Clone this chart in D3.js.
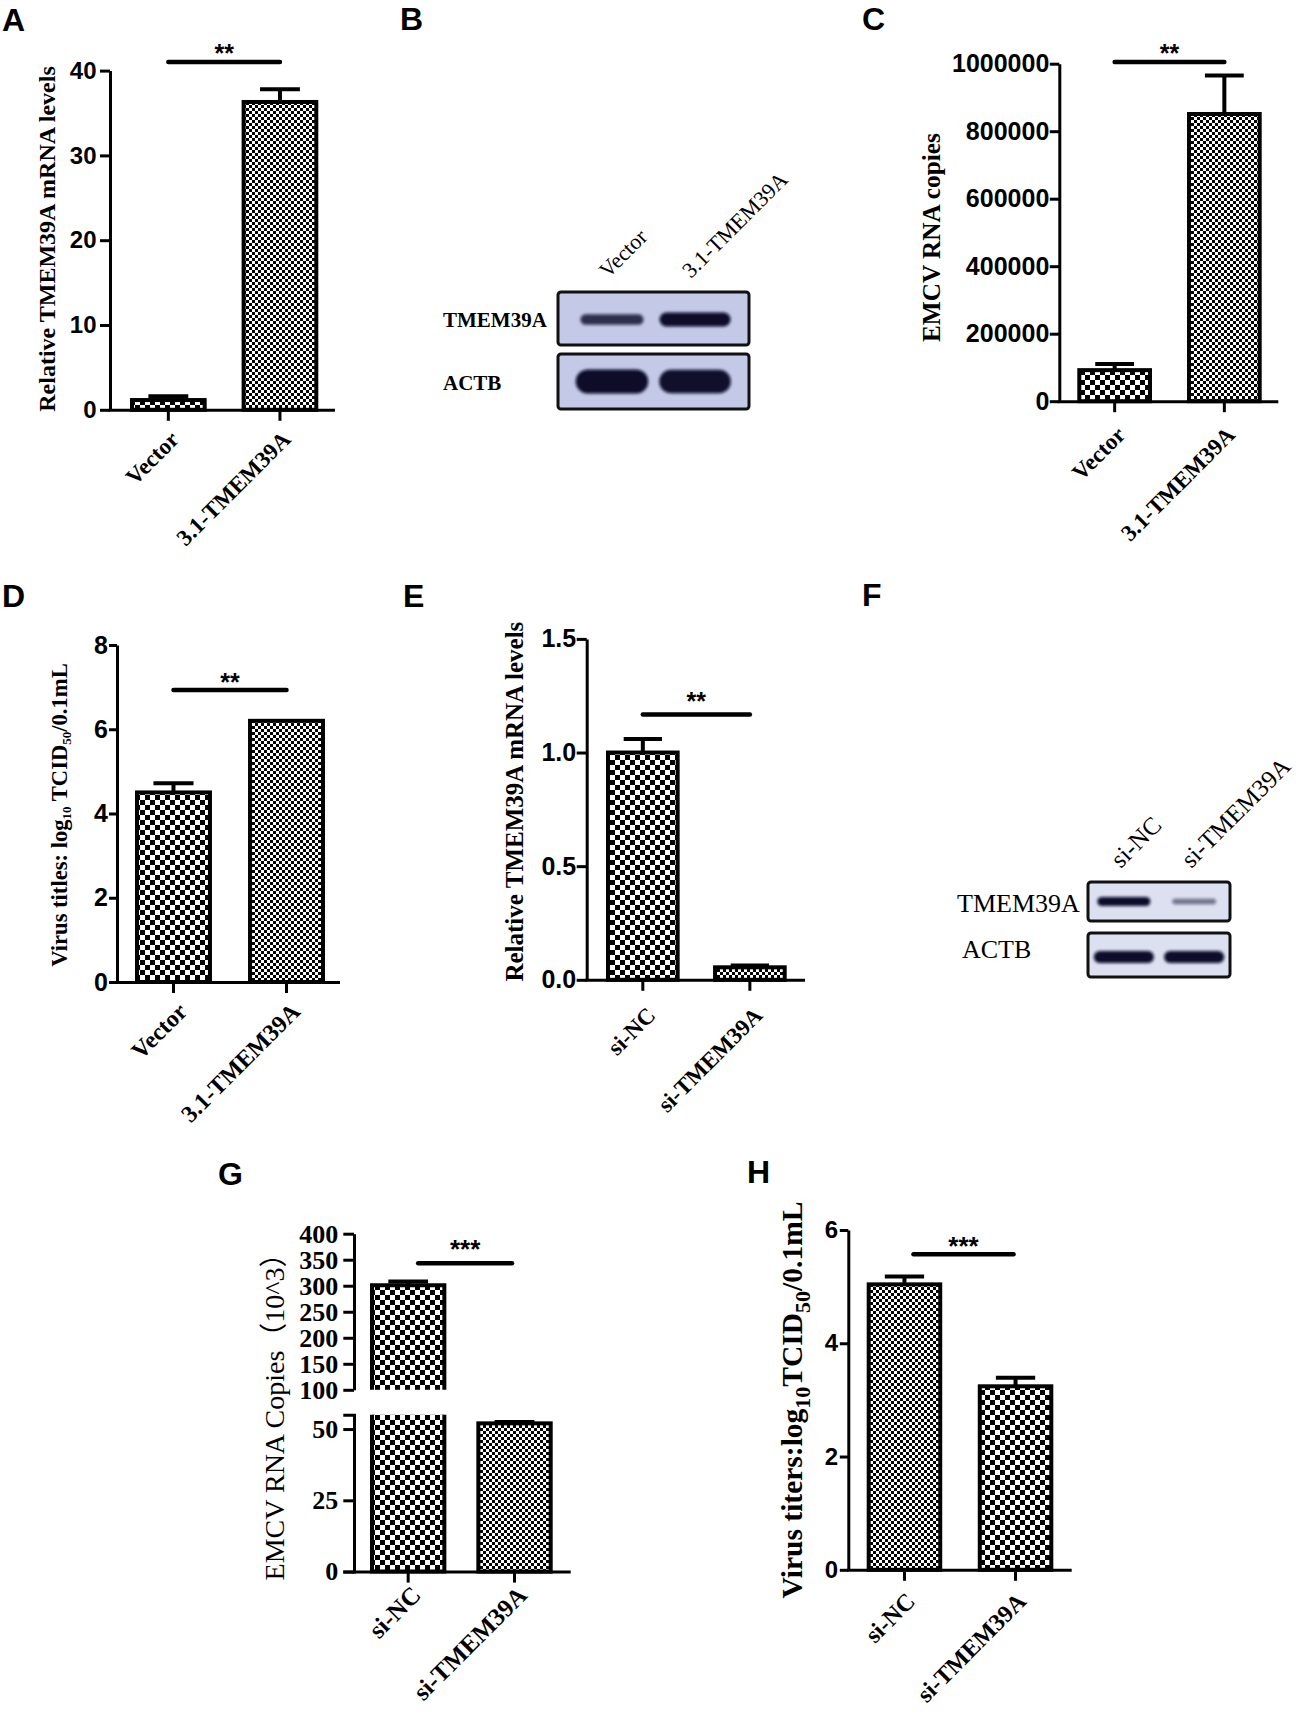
<!DOCTYPE html>
<html>
<head>
<meta charset="utf-8">
<script src="https://cdn.jsdelivr.net/npm/d3@7/dist/d3.min.js"></script>
<style>
html,body{margin:0;padding:0;background:#fff;}
svg{display:block;}
text{white-space:pre;}
</style>
</head>
<body>
<svg id="fig" width="1300" height="1716" xmlns="http://www.w3.org/2000/svg"></svg>
<script>
// ===================== DATA =====================
const catsOE = ["Vector", "3.1-TMEM39A"];
const catsKD = ["si-NC", "si-TMEM39A"];

// A: relative TMEM39A mRNA levels (over-expression)
const aValues = [1.15, 36.3];
const aErrors = [0.45, 1.5];
const aTicks = [0, 10, 20, 30, 40];

// C: EMCV RNA copies (over-expression)
const cValues = [92000, 851000];
const cErrors = [18000, 114000];
const cTicks = [0, 200000, 400000, 600000, 800000, 1000000];

// D: virus titres log10 TCID50/0.1mL (over-expression)
const dValues = [4.5, 6.2];
const dErrors = [0.22, 0];
const dTicks = [0, 2, 4, 6, 8];

// E: relative TMEM39A mRNA levels (knock-down)
const eValues = [1.0, 0.055];
const eErrors = [0.06, 0.008];
const eTicks = [0, 0.5, 1.0, 1.5];

// G: EMCV RNA copies (10^3) (knock-down), broken axis
const gValues = [301, 52];
const gErrors = [7, 0.5];
const gTicksUpper = [100, 150, 200, 250, 300, 350, 400];
const gTicksLower = [0, 25, 50];
const gBreak = [55, 100];

// H: virus titres log10 TCID50/0.1mL (knock-down)
const hValues = [5.04, 3.24];
const hErrors = [0.14, 0.15];
const hTicks = [0, 2, 4, 6];

// significance brackets
const sigLevels = { A: 41, C: 1005000, D: 6.93, E: 1.167, G: 343, H: 5.57 };
const sigLabels = { A: "**", C: "**", D: "**", E: "**", G: "***", H: "***" };

// western blots: relative band intensity [row][lane]
const blotRows = ["TMEM39A", "ACTB"];
const blotBIntensity = [[0.55, 1.0], [1.0, 0.95]];
const blotFIntensity = [[1.0, 0.3], [1.0, 1.0]];

// ===================== DRAWING =====================
const serif = "'Liberation Serif','Times New Roman',Times,serif";
const sans = "'Liberation Sans',Arial,Helvetica,sans-serif";
const svg = d3.select("#fig");
const defs = svg.append("defs");

function checker(id, s) {
  const p = defs.append("pattern").attr("id", id).attr("patternUnits", "userSpaceOnUse")
    .attr("width", 2 * s).attr("height", 2 * s);
  p.append("rect").attr("width", 2 * s).attr("height", 2 * s).attr("fill", "#fff");
  p.append("rect").attr("width", s).attr("height", s).attr("fill", "#000");
  p.append("rect").attr("x", s).attr("y", s).attr("width", s).attr("height", s).attr("fill", "#000");
}
checker("coarse", 5);
checker("fine", 3);

const blurF = defs.append("filter").attr("id", "blur").attr("x", "-30%").attr("y", "-80%")
  .attr("width", "160%").attr("height", "260%");
blurF.append("feGaussianBlur").attr("stdDeviation", 1.6);

function letter(t, x, y) {
  svg.append("text").attr("x", x).attr("y", y).attr("font-family", sans).attr("font-weight", "bold")
    .attr("font-size", 32).text(t);
}

function styleAxis(a, fam, fs, weight) {
  a.selectAll("path,line").attr("stroke", "#000").attr("stroke-width", 3);
  if (fam) a.attr("font-family", fam).attr("font-size", fs).attr("font-weight", weight || "bold");
  a.selectAll("text").attr("fill", "#000");
}

function richLabel(x, y, fs, weight, parts, fam) {
  const t = svg.append("text").attr("transform", `translate(${x},${y}) rotate(-90)`)
    .attr("text-anchor", "middle").attr("font-family", fam || serif).attr("font-size", fs)
    .attr("font-weight", weight).attr("fill", "#000");
  let shift = 0;
  parts.forEach(p => {
    const ts = t.append("tspan").text(p.t);
    if (p.sub) { ts.attr("font-size", p.sub).attr("dy", p.dy - shift); shift = p.dy; }
    else { if (shift) ts.attr("dy", -shift); shift = 0; }
  });
}

function xLabels(g, cats, cx, y0, dx, dy, fs) {
  g.selectAll(".xl").data(cats).join("text").attr("class", "xl")
    .attr("transform", c => `translate(${cx(c) + dx},${y0 + dy}) rotate(-45)`)
    .attr("text-anchor", "end").attr("font-family", serif).attr("font-weight", "bold")
    .attr("font-size", fs).attr("fill", "#000").text(c => c);
}

function sigBracket(g, x1, x2, sy, label, fs, dy) {
  g.append("line").attr("x1", x1).attr("x2", x2).attr("y1", sy).attr("y2", sy)
    .attr("stroke", "#000").attr("stroke-width", 4.5).attr("stroke-linecap", "round");
  g.append("text").attr("x", (x1 + x2) / 2).attr("y", sy + dy).attr("text-anchor", "middle")
    .attr("font-family", sans).attr("font-weight", "bold").attr("font-size", fs).text(label);
}

function errBar(g, cx, yv, ye, half) {
  g.append("line").attr("x1", cx).attr("x2", cx).attr("y1", yv).attr("y2", ye)
    .attr("stroke", "#000").attr("stroke-width", 4);
  g.append("line").attr("x1", cx - half).attr("x2", cx + half).attr("y1", ye).attr("y2", ye)
    .attr("stroke", "#000").attr("stroke-width", 4);
}

function barPanel(o) {
  const g = svg.append("g");
  const y = d3.scaleLinear().domain(o.domain).range([o.y0, o.yTop]);
  const x = d3.scaleBand().domain(o.cats).range(o.barRange).paddingInner(o.pad).paddingOuter(0);
  const bw = x.bandwidth();
  const cx = c => x(c) + bw / 2;
  const rows = o.cats.map((c, i) => ({ c, v: o.values[i], e: o.errors[i], p: o.patterns[i] }));
  rows.filter(d => d.e > 0).forEach(d => errBar(g, cx(d.c), y(d.v), y(d.v + d.e), bw * 0.26));
  g.selectAll(".bar").data(rows).join("rect").attr("class", "bar")
    .attr("x", d => x(d.c) + 2).attr("width", bw - 4)
    .attr("y", d => y(d.v)).attr("height", d => o.y0 - y(d.v))
    .attr("fill", d => `url(#${d.p})`).attr("stroke", "#000").attr("stroke-width", 4);
  const ya = g.append("g").attr("transform", `translate(${o.axisX},0)`)
    .call(d3.axisLeft(y).tickValues(o.ticks).tickFormat(o.fmt).tickSize(o.tickLen)
      .tickSizeOuter(0).tickPadding(o.tickPad));
  styleAxis(ya, sans, o.tickFs, "bold");
  const xa = g.append("g").attr("transform", `translate(0,${o.y0})`)
    .call(d3.axisBottom(x).tickSize(11).tickSizeOuter(0).tickFormat(""));
  xa.select(".domain").attr("d", `M${o.axisX - 1.5},0.5H${o.axisEnd}`);
  styleAxis(xa);
  xLabels(g, o.cats, cx, o.y0, o.xlDx, o.xlDy, o.xlFs);
  const ins = o.sigInset || [0, 0];
  sigBracket(g, cx(o.cats[0]) + ins[0], cx(o.cats[1]) - ins[1], y(o.sig), o.sigLabel, o.starFs, o.starDy);
}

// ---------- Panel A ----------
letter("A", 2, 31);
barPanel({ cats: catsOE, values: aValues, errors: aErrors, patterns: ["coarse", "fine"],
  domain: [0, 40], ticks: aTicks, fmt: d3.format("d"), y0: 409.8, yTop: 70.6, axisX: 110,
  barRange: [130, 318.3], pad: 0.313, axisEnd: 335, tickLen: 10, tickPad: 3.5, tickFs: 24,
  xlDx: 12, xlDy: 31, xlFs: 23, sig: sigLevels.A, sigLabel: sigLabels.A, starFs: 25, starDy: 0 });
richLabel(55, 239, 24, "bold", [{ t: "Relative TMEM39A mRNA levels" }]);

// ---------- Panel C ----------
letter("C", 862, 30);
barPanel({ cats: catsOE, values: cValues, errors: cErrors, patterns: ["coarse", "fine"],
  domain: [0, 1000000], ticks: cTicks, fmt: d3.format("d"), y0: 401.2, yTop: 63.7, axisX: 1059.3,
  barRange: [1077.3, 1261.7], pad: 0.319, axisEnd: 1278.3, tickLen: 9.5, tickPad: 0.5, tickFs: 25,
  xlDx: 12, xlDy: 35, xlFs: 23, sig: sigLevels.C, sigLabel: sigLabels.C, starFs: 25, starDy: 0 });
richLabel(940, 237.6, 25.3, "bold", [{ t: "EMCV RNA copies" }]);

// ---------- Panel D ----------
letter("D", 2, 607);
barPanel({ cats: catsOE, values: dValues, errors: dErrors, patterns: ["coarse", "fine"],
  domain: [0, 8], ticks: dTicks, fmt: d3.format("d"), y0: 982, yTop: 645, axisX: 117,
  barRange: [135, 325], pad: 0.319, axisEnd: 340, tickLen: 8, tickPad: 1, tickFs: 25,
  xlDx: 15, xlDy: 31, xlFs: 24, sig: sigLevels.D, sigLabel: sigLabels.D, starFs: 25, starDy: 1 });
richLabel(67, 815, 22.6, "bold", [{ t: "Virus titles: log" }, { t: "10", sub: 13, dy: 4 },
  { t: " TCID" }, { t: "50", sub: 13, dy: 4 }, { t: "/0.1mL" }]);

// ---------- Panel E ----------
letter("E", 403, 607);
barPanel({ cats: catsKD, values: eValues, errors: eErrors, patterns: ["coarse", "fine"],
  domain: [0, 1.5], ticks: eTicks, fmt: d3.format(".1f"), y0: 979.8, yTop: 638.9, axisX: 586.7,
  barRange: [606, 786.7], pad: 0.312, axisEnd: 805, tickLen: 10, tickPad: 0.5, tickFs: 25,
  xlDx: 14, xlDy: 37, xlFs: 23, sig: sigLevels.E, sigLabel: sigLabels.E, starFs: 25, starDy: -4.5 });
richLabel(523, 801.6, 25, "bold", [{ t: "Relative TMEM39A mRNA levels" }]);

// ---------- Panel H ----------
letter("H", 747, 1183);
barPanel({ cats: catsKD, values: hValues, errors: hErrors, patterns: ["fine", "coarse"],
  domain: [0, 6], ticks: hTicks, fmt: d3.format("d"), y0: 1569.8, yTop: 1230, axisX: 848.3,
  barRange: [866.7, 1053.3], pad: 0.32, axisEnd: 1071.7, tickLen: 8.5, tickPad: 1.6, tickFs: 24,
  xlDx: 12, xlDy: 33, xlFs: 24, sig: sigLevels.H, sigLabel: sigLabels.H, starFs: 26, starDy: 1,
  sigInset: [9, 2] });
richLabel(802, 1400, 29.5, "bold", [{ t: "Virus titers:log" }, { t: "10", sub: 22, dy: 8 },
  { t: "TCID" }, { t: "50", sub: 22, dy: 8 }, { t: "/0.1mL" }]);

// ---------- Panel G (broken axis) ----------
letter("G", 218, 1185);
(function () {
  const g = svg.append("g");
  const axisX = 354, y0 = 1571.6, axisEnd = 570.7;
  const yL = d3.scaleLinear().domain([0, gBreak[0]]).range([y0, 1414.8]);
  const yU = d3.scaleLinear().domain([gBreak[1], 400]).range([1389.8, 1233.7]);
  const x = d3.scaleBand().domain(catsKD).range([370, 552.7]).paddingInner(0.282).paddingOuter(0);
  const bw = x.bandwidth();
  const cx = c => x(c) + bw / 2;
  const pats = ["coarse", "fine"];
  catsKD.forEach((c, i) => {
    const v = gValues[i], e = gErrors[i];
    const x0 = x(c) + 2, x1 = x(c) + bw - 2;
    if (v > gBreak[0]) {
      errBar(g, cx(c), yU(v), yU(v + e), bw * 0.26);
      g.append("rect").attr("x", x0).attr("width", x1 - x0).attr("y", yU(v))
        .attr("height", yU(gBreak[1]) - yU(v)).attr("fill", `url(#${pats[i]})`);
      g.append("path").attr("d", `M${x0},${yU(gBreak[1])}V${yU(v)}H${x1}V${yU(gBreak[1])}`)
        .attr("fill", "none").attr("stroke", "#000").attr("stroke-width", 4);
      g.append("rect").attr("x", x0).attr("width", x1 - x0).attr("y", yL(gBreak[0]))
        .attr("height", y0 - yL(gBreak[0])).attr("fill", `url(#${pats[i]})`);
      g.append("path").attr("d", `M${x0},${yL(gBreak[0])}V${y0}H${x1}V${yL(gBreak[0])}`)
        .attr("fill", "none").attr("stroke", "#000").attr("stroke-width", 4);
    } else {
      if (e > 0) errBar(g, cx(c), yL(v), yL(v + e), bw * 0.26);
      g.append("rect").attr("x", x0).attr("width", x1 - x0).attr("y", yL(v))
        .attr("height", y0 - yL(v)).attr("fill", `url(#${pats[i]})`)
        .attr("stroke", "#000").attr("stroke-width", 4);
    }
  });
  const au = g.append("g").attr("transform", `translate(${axisX},0)`)
    .call(d3.axisLeft(yU).tickValues(gTicksUpper).tickFormat(d3.format("d")).tickSize(10.7)
      .tickSizeOuter(0).tickPadding(5));
  styleAxis(au, serif, 26, "bold");
  const al = g.append("g").attr("transform", `translate(${axisX},0)`)
    .call(d3.axisLeft(yL).tickValues(gTicksLower).tickFormat(d3.format("d")).tickSize(10.7)
      .tickSizeOuter(10.7).tickPadding(5));
  styleAxis(al, serif, 26, "bold");
  const xa = g.append("g").attr("transform", `translate(0,${y0})`)
    .call(d3.axisBottom(x).tickSize(11).tickSizeOuter(0).tickFormat(""));
  xa.select(".domain").attr("d", `M${axisX - 1.5},0.5H${axisEnd}`);
  styleAxis(xa);
  xLabels(g, catsKD, cx, y0, 14, 25, 25);
  sigBracket(g, cx(catsKD[0]) + 10, cx(catsKD[1]) - 2.5, yU(sigLevels.G), sigLabels.G, 26, -5);
})();
richLabel(284, 1410, 28, "normal", [{ t: "EMCV RNA Copies（10^3）" }],
  "'Liberation Serif','Times New Roman',serif,'Noto Sans CJK SC'");

// ---------- Western blots ----------
function blot(o) {
  const g = svg.append("g");
  const x = d3.scaleBand().domain(o.lanes).range([o.x0, o.x1]).paddingInner(o.pi).paddingOuter(o.po);
  const bw = x.bandwidth();
  o.rows.forEach((r, ri) => {
    g.append("rect").attr("x", o.x0).attr("y", r.y0).attr("width", o.x1 - o.x0)
      .attr("height", r.y1 - r.y0).attr("rx", 3).attr("fill", o.bg)
      .attr("stroke", "#111").attr("stroke-width", 3);
    const cy = (r.y0 + r.y1) / 2 + (r.dy || 0);
    o.intensity[ri].forEach((I, li) => {
      const w = bw * r.wMax * (0.75 + 0.25 * I), h = r.hMax * (0.45 + 0.55 * I);
      g.append("rect").attr("x", x(o.lanes[li]) + bw / 2 - w / 2).attr("y", cy - h / 2)
        .attr("width", w).attr("height", h).attr("rx", h / 2).attr("ry", h / 2)
        .attr("fill", "#0a0c2c").attr("opacity", o.opBase + (1 - o.opBase) * I)
        .attr("filter", "url(#blur)");
    });
    g.append("text").attr("x", r.labelX).attr("y", r.labelY).attr("font-family", serif)
      .attr("font-weight", o.rowWeight).attr("font-size", o.rowFs).text(blotRows[ri]);
  });
  g.selectAll(".cl").data(o.lanes).join("text").attr("class", "cl")
    .attr("transform", c => `translate(${x(c) + bw / 2 + o.colDx},${o.rows[0].y0 + o.colDy}) rotate(-45)`)
    .attr("font-family", serif).attr("font-size", o.colFs).text(c => c);
}

letter("B", 400, 30);
blot({ lanes: catsOE, intensity: blotBIntensity, x0: 558, x1: 749, pi: 0.1, po: 0.2, bg: "#c4c9e7",
  opBase: 0.6,
  rows: [{ y0: 292, y1: 345, hMax: 14, wMax: 0.95, dy: 1, labelX: 443, labelY: 327 },
         { y0: 354, y1: 409, hMax: 24, wMax: 0.97, dy: 0, labelX: 443, labelY: 390 }],
  rowFs: 21, rowWeight: "bold", colFs: 22, colDx: -4, colDy: -13 });

letter("F", 862, 606);
blot({ lanes: catsKD, intensity: blotFIntensity, x0: 1088, x1: 1230, pi: 0.08, po: 0.05, bg: "#dce0f0",
  opBase: 0.3,
  rows: [{ y0: 882, y1: 921, hMax: 9, wMax: 0.82, dy: 0, labelX: 957, labelY: 912 },
         { y0: 933, y1: 977, hMax: 12, wMax: 0.93, dy: 2, labelX: 962, labelY: 958 }],
  rowFs: 26, rowWeight: "normal", colFs: 25, colDx: -3, colDy: -13 });
</script>
</body>
</html>
